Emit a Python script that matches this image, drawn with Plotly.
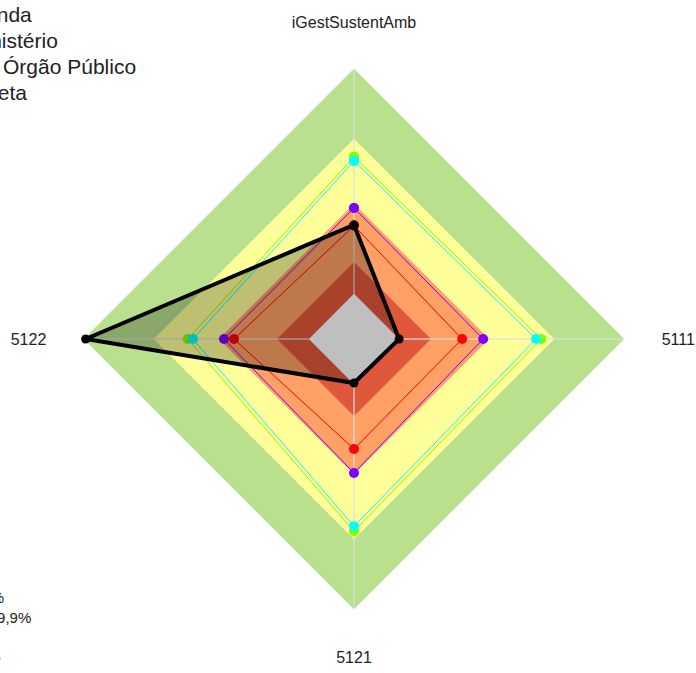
import plotly.graph_objects as go

# Indicator axes (clockwise from the top)
categories = ["iGestSustentAmb", "5111", "5121", "5122"]

# Performance bands (outer limit of each band, %)
band_limits = [100, 74.1, 50, 28.5]
band_colors = ["#B9E08D", "#FFFF99", "#FFA066", "#E0583B"]
center_limit = 16.7
center_color = "#FFFFFF"

# Series values per indicator
serie_verde = [67.4, 69.3, 71.1, 61.5]
serie_ciano = [65.9, 67.4, 69.3, 59.6]
serie_roxo = [48.5, 47.8, 49.6, 48.1]
serie_vermelho = [41.9, 40.0, 40.7, 44.4]
serie_orgao = [42.2, 16.7, 16.3, 99.3]

series = [
    ("Meta superior", serie_verde, "#7FFF00"),
    ("Meta", serie_ciano, "#00FFFF"),
    ("Média", serie_roxo, "#8000FF"),
    ("Mínimo", serie_vermelho, "#FF0000"),
]

closed = lambda seq: list(seq) + [seq[0]]
theta_closed = closed(categories)


def band(lim, col):
    return go.Scatterpolar(
        r=[lim] * (len(categories) + 1), theta=theta_closed,
        mode="lines", fill="toself", fillcolor=col,
        line=dict(color=col, width=0), hoverinfo="skip", showlegend=False,
    )


fig = go.Figure()

# Filled background bands, largest first
for lim, col in zip(band_limits, band_colors):
    fig.add_trace(band(lim, col))

# Spokes along each indicator
for cat in categories:
    fig.add_trace(go.Scatterpolar(
        r=[0, band_limits[0]], theta=[cat, cat], mode="lines",
        line=dict(color="rgba(222,222,222,0.8)", width=1.5),
        hoverinfo="skip", showlegend=False,
    ))

# Innermost band
fig.add_trace(band(center_limit, center_color))

# Reference series
for name, vals, col in series:
    fig.add_trace(go.Scatterpolar(
        r=closed(vals), theta=theta_closed, mode="lines+markers", name=name,
        line=dict(color=col, width=1), marker=dict(color=col, size=10),
        showlegend=False,
    ))

# Organisation series
fig.add_trace(go.Scatterpolar(
    r=closed(serie_orgao), theta=theta_closed, mode="lines+markers",
    name="Órgão", fill="toself", fillcolor="rgba(0,0,0,0.25)",
    line=dict(color="black", width=4), marker=dict(color="black", size=9),
    showlegend=False,
))

L, T, W = 54, 39, 600


def px(x, y):
    return dict(x=(x - L) / W, y=1 - (y - T) / W)


annotations = []
legend_lines = [
    ("Legenda", 34, 15),
    ("Ministério", 60, 41),
    ("Média Órgão Público", 138, 67),
    ("Administração Direta", 29, 92),
]
for txt, xr, yc in legend_lines:
    annotations.append(dict(
        text=txt, xref="paper", yref="paper", xanchor="right", yanchor="middle",
        showarrow=False, font=dict(size=21, color="#222222"), **px(xr, yc),
    ))

bottom_lines = [
    ("Acima de 100%", 6, 597),
    ("80% a 99,9%", 33, 617),
]
for txt, xr, yc in bottom_lines:
    annotations.append(dict(
        text=txt, xref="paper", yref="paper", xanchor="right", yanchor="middle",
        showarrow=False, font=dict(size=15, color="#222222"), **px(xr, yc),
    ))
annotations.append(dict(
    text="●", xref="paper", yref="paper", xanchor="right", yanchor="middle",
    showarrow=False, font=dict(size=12, color="#1F5FBF"), **px(3, 658),
))

fig.update_layout(
    width=696, height=673,
    margin=dict(l=L, r=696 - L - W, t=T, b=673 - T - W),
    paper_bgcolor="white",
    font=dict(family="Liberation Sans, Arial, sans-serif", color="#222222"),
    showlegend=False,
    annotations=annotations,
    polar=dict(
        bgcolor="white",
        radialaxis=dict(range=[0, 111], visible=False, showgrid=False),
        angularaxis=dict(
            rotation=90, direction="clockwise", showline=False, showgrid=False,
            ticks="outside", ticklen=4, tickcolor="rgba(0,0,0,0)",
            tickfont=dict(size=16, color="#222222"),
        ),
    ),
)

fig.write_html("out.html")
